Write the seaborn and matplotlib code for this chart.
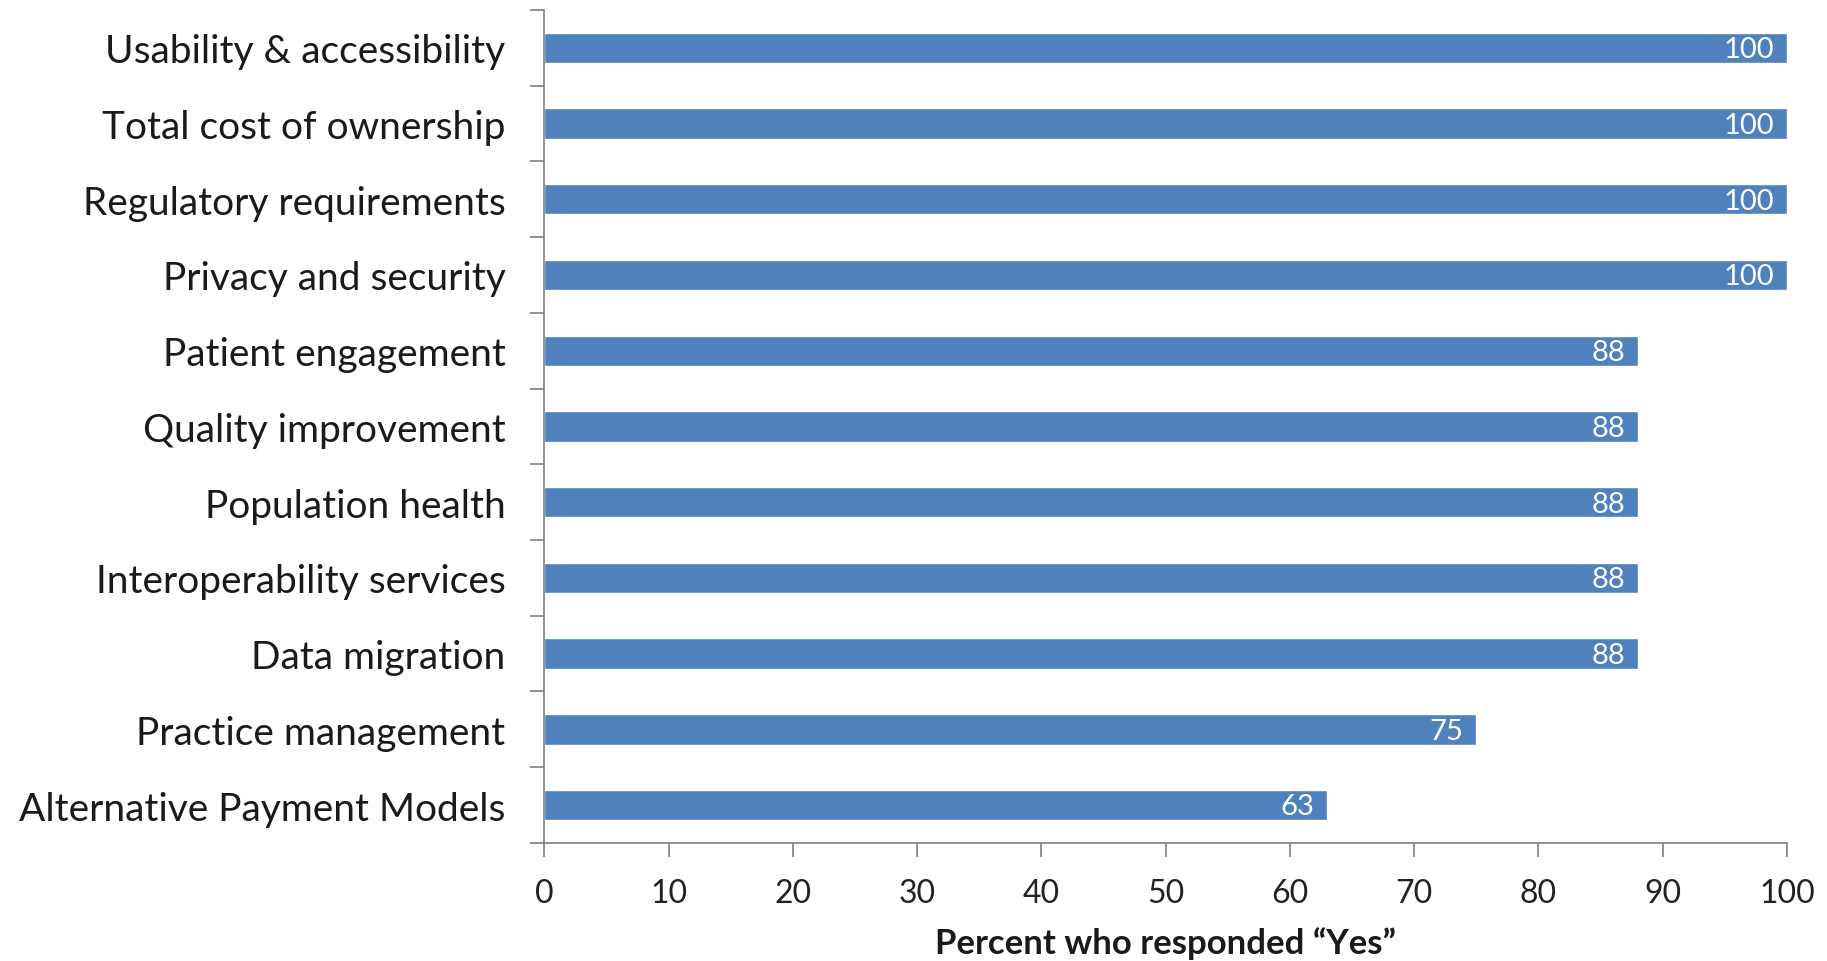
import matplotlib
matplotlib.use("Agg")
import matplotlib.pyplot as plt
import seaborn as sns
import pandas as pd
import numpy as np

categories = [
    "Usability & accessibility",
    "Total cost of ownership",
    "Regulatory requirements",
    "Privacy and security",
    "Patient engagement",
    "Quality improvement",
    "Population health",
    "Interoperability services",
    "Data migration",
    "Practice management",
    "Alternative Payment Models",
]
percent_yes = [100, 100, 100, 100, 88, 88, 88, 88, 88, 75, 63]
x_ticks = [0, 10, 20, 30, 40, 50, 60, 70, 80, 90, 100]

sns.set_theme(style="white")
plt.rcParams["font.family"] = ["Lato", "DejaVu Sans"]

df = pd.DataFrame({"category": categories, "percent": percent_yes})

fig = plt.figure(figsize=(18.27, 9.62), dpi=100)
ax = fig.add_axes([0.298, 0.1227, 0.680, 0.866])

bar_color = "#4F81BD"
sns.barplot(data=df, y="category", x="percent", orient="h",
            color=bar_color, width=0.4, saturation=1, ax=ax)

ax.set_xlim(0, 100)
ax.set_ylim(len(categories) - 0.5, -0.5)
ax.set_xticks(x_ticks)
ax.set_xticklabels([str(t) for t in x_ticks], fontsize=23, color="#222222")

# category labels at bar centres, tick marks at category boundaries
ax.set_yticks(np.arange(len(categories)))
ax.set_yticklabels(categories, fontsize=28, color="#1a1a1a")
ax.set_yticks(np.arange(len(categories) + 1) - 0.5, minor=True)
ax.tick_params(axis="y", which="major", left=True, length=0, pad=28)
ax.tick_params(axis="y", which="minor", left=True, length=10, width=1.2,
               color="#7f7f7f", direction="out")
ax.tick_params(axis="x", which="major", bottom=True, length=10, width=1.2,
               color="#7f7f7f", direction="out", pad=15)

ax.set_ylabel("")
ax.set_xlabel("Percent who responded \u201cYes\u201d", fontsize=25,
              fontweight="bold", color="#1a1a1a", labelpad=13)

for side in ("top", "right"):
    ax.spines[side].set_visible(False)
for side in ("left", "bottom"):
    ax.spines[side].set_color("#7f7f7f")
    ax.spines[side].set_linewidth(1.2)

for i, v in enumerate(percent_yes):
    ax.annotate(str(v), xy=(v, i), xytext=(-9, -1), textcoords="offset points",
                ha="right", va="center", color="white", fontsize=21)

fig.savefig("out.png", dpi=100, facecolor="white")
